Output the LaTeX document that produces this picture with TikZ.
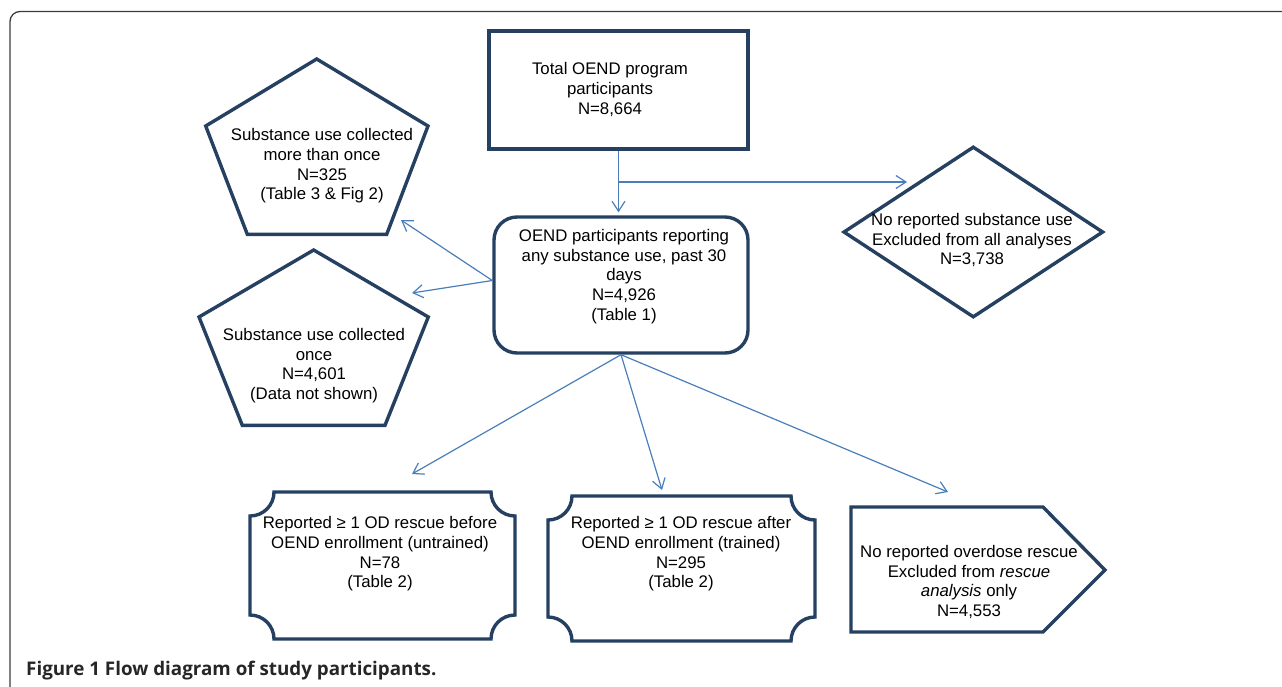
\documentclass[tikz,border=0pt]{standalone}
\usepackage{fontspec}
\setmainfont{Liberation Sans}
\newfontfamily\capfont{Open Sans}
\usetikzlibrary{arrows.meta,shapes.geometric}
\begin{document}
\begin{tikzpicture}[x=1pt,y=-1pt,
  boxline/.style={line width=3.4pt,draw=boxcolor,line join=miter},
  flow/.style={line width=1.2pt,draw=flowcolor,-{Straight Barb[length=10pt,width=13pt]}},
  boxtext/.style={align=center,inner sep=0pt,font=\fontsize{16.8}{19.7}\selectfont}]
\definecolor{boxcolor}{RGB}{37,64,97}
\definecolor{flowcolor}{RGB}{74,126,187}
\definecolor{framecolor}{RGB}{60,60,60}
\useasboundingbox (0,0) rectangle (1282,686);
\clip (0,0) rectangle (1282,686);
\draw [framecolor,line width=1.3pt,rounded corners=10pt] (10,700) -- (10,11.5) -- (1300,11.5);
\node (total) [rectangle,boxline,minimum width=259pt,minimum height=118pt] at (618.5,90) {};
\node (sub) [rectangle,rounded corners=23pt,boxline,minimum width=254pt,minimum height=136pt] at (621,285) {};
\node (excl) [diamond,boxline,inner sep=0pt,minimum width=260pt,minimum height=171pt] at (973.3,232) {};
\draw [boxline] (316.7,59) -- (428,126) -- (386.7,234.3) -- (247.3,234.3) -- (205.7,126) -- cycle;
\draw [boxline] (313.7,250) -- (428.3,317) -- (385,425.3) -- (242.3,425.3) -- (199,317) -- cycle;
\draw [boxline] (274,492) -- (491,492) .. controls (491,505.25) and (501.75,516) .. (515,516) -- (515,615) .. controls (501.75,615) and (491,625.75) .. (491,639) -- (274,639) .. controls (274,625.75) and (263.25,615) .. (250,615) -- (250,516) .. controls (263.25,516) and (274,505.25) .. (274,492) -- cycle;
\draw [boxline] (572,496) -- (791,496) .. controls (791,509.25) and (801.75,520) .. (815,520) -- (815,617) .. controls (801.75,617) and (791,627.75) .. (791,641) -- (572,641) .. controls (572,627.75) and (561.25,617) .. (548,617) -- (548,520) .. controls (561.25,520) and (572,509.25) .. (572,496) -- cycle;
\draw [boxline] (851,507) -- (1043,507) -- (1105,570) -- (1043,632) -- (851,632) -- cycle;
\node (totaltxt) [boxtext] at (610,89.5) {Total OEND program\\participants\\N=8,664};
\node (subtxt) [boxtext] at (624,276.5) {OEND participants reporting\\any substance use, past 30\\days\\N=4,926\\(Table 1)};
\node (excltxt) [boxtext] at (972,240) {No reported substance use\\Excluded from all analyses\\N=3,738};
\node (pentA) [boxtext] at (322,166) {Substance use collected\\more than once\\N=325\\(Table 3 \& Fig 2)};
\node (pentB) [boxtext] at (314,365.5) {Substance use collected\\once\\N=4,601\\(Data not shown)};
\node (before) [boxtext] at (380,554) {Reported ≥ 1 OD rescue before\\OEND enrollment (untrained)\\N=78\\(Table 2)};
\node (after) [boxtext] at (681,554) {Reported ≥ 1 OD rescue after\\OEND enrollment (trained)\\N=295\\(Table 2)};
\node (norescue) [boxtext] at (969,582) {No reported overdose rescue\\Excluded from \textit{rescue}\\\textit{analysis} only\\N=4,553};
\coordinate (split) at (total.south |- 0,182);
\coordinate (exclin) at (907,182);
\coordinate (pentAin) at (401,220);
\coordinate (pentBin) at (412,293);
\coordinate (beforein) at (412,474);
\coordinate (afterin) at (662,490);
\coordinate (norescuein) at (948,492);
\draw [flow,shorten >=3pt] (total.south) -- (total.south |- sub.north);
\draw [flow] (split) -- (exclin);
\draw [flow] (sub.178) -- (pentAin);
\draw [flow] (sub.178) -- (pentBin);
\draw [flow] (sub.south) -- (beforein);
\draw [flow] (sub.south) -- (afterin);
\draw [flow] (sub.south) -- (norescuein);
\node (caption) [anchor=base west,inner sep=0pt,text=black!85,font=\capfont\bfseries\fontsize{18.8}{22}\selectfont] at (26,675) {Figure 1 Flow diagram of study participants.};
\end{tikzpicture}
\end{document}
